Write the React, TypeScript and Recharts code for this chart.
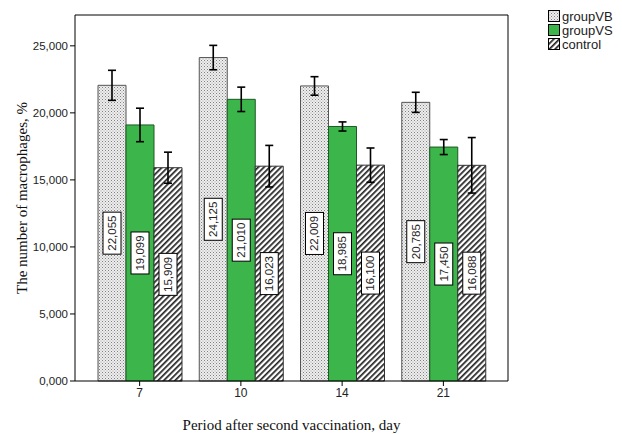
import { BarChart, Bar, XAxis, YAxis, ErrorBar, LabelList } from "recharts"

// days after second vaccination
const days = ["7", "10", "14", "21"]

// means (thousands, shown with comma decimals as on the original)
const groupVB = [22.055, 24.125, 22.009, 20.785]
const groupVS = [19.099, 21.01, 18.985, 17.45]
const control = [15.909, 16.023, 16.1, 16.088]

// error bar half-lengths
const errVB = [1.12, 0.91, 0.69, 0.75]
const errVS = [1.25, 0.91, 0.34, 0.56]
const errControl = [1.16, 1.55, 1.28, 2.07]

const yTicks = [0, 5, 10, 15, 20, 25]

const data = days.map((d, i) => ({
  day: d,
  vb: groupVB[i],
  vs: groupVS[i],
  control: control[i],
  errVB: errVB[i],
  errVS: errVS[i],
  errControl: errControl[i],
}))

const fmt = (v: number) => v.toFixed(3).replace(".", ",")

const GREEN = "#3cb54a"

function BoxLabel(props: any) {
  const { x, y, width, height, value } = props
  const cx = x + width / 2
  const cy = y + height / 2
  const w = 18
  const h = 42
  return (
    <g>
      <rect x={cx - w / 2} y={cy - h / 2} width={w} height={h} fill="#fff" stroke="#000" strokeWidth={1} />
      <text
        x={cx}
        y={cy}
        transform={`rotate(-90 ${cx} ${cy})`}
        textAnchor="middle"
        dominantBaseline="central"
        fontFamily="Liberation Sans, Arial, sans-serif"
        fontSize={11.5}
        fill="#222"
      >
        {fmt(value)}
      </text>
    </g>
  )
}

const legendItems = [
  { name: "groupVB", fill: "url(#dots)" },
  { name: "groupVS", fill: GREEN },
  { name: "control", fill: "url(#hatch)" },
]

function LegendBox() {
  return (
    <div
      style={{
        position: "absolute",
        left: 548,
        top: 9,
        fontFamily: "Liberation Sans, Arial, sans-serif",
        fontSize: 13,
        color: "#222",
      }}
    >
      {legendItems.map((it) => (
        <div key={it.name} style={{ display: "flex", alignItems: "center", height: 14 }}>
          <svg width={13} height={13} style={{ marginRight: 1 }}>
            <rect x={0.5} y={0.5} width={11} height={11} fill={it.fill} stroke="#000" />
          </svg>
          <span>{it.name}</span>
        </div>
      ))}
    </div>
  )
}

export default function App() {
  return (
    <div style={{ position: "absolute", left: 0, top: 0, width: 622, height: 434, background: "#fff" }}>
      <BarChart
        width={622}
        height={434}
        data={data}
        margin={{ top: 14, right: 113, left: 0, bottom: 0 }}
        barGap={0}
        barCategoryGap={8}
      >
        <defs>
          <pattern id="dots" width="3" height="3" patternUnits="userSpaceOnUse">
            <rect width="3" height="3" fill="#eeeeee" />
            <rect width="1" height="1" fill="#808080" />
            <rect x="1.5" y="1.5" width="1" height="1" fill="#a0a0a0" />
          </pattern>
          <pattern id="hatch" width="4" height="4" patternUnits="userSpaceOnUse" patternTransform="rotate(45)">
            <rect width="4" height="4" fill="#fff" />
            <rect width="1.7" height="4" fill="#222" />
          </pattern>
        </defs>
        <XAxis
          dataKey="day"
          padding={{ left: 14, right: 14 }}
          stroke="#000"
          tick={{ fill: "#222", fontSize: 12, fontFamily: "Liberation Sans, Arial, sans-serif" }}
          tickSize={5}
          height={53}
          label={{
            value: "Period after second vaccination, day",
            position: "insideBottom",
            offset: 4,
            fill: "#111",
            fontSize: 15,
            fontFamily: "Liberation Serif, Times New Roman, serif",
          }}
        />
        <XAxis xAxisId="top" orientation="top" dataKey="day" height={1} tick={false} tickLine={false} stroke="#000" />
        <YAxis
          domain={[0, 27.3]}
          ticks={yTicks}
          tickFormatter={fmt}
          width={75}
          stroke="#000"
          tickSize={5}
          tick={{ fill: "#222", fontSize: 11.5, fontFamily: "Liberation Sans, Arial, sans-serif" }}
          label={{
            value: "The number of macrophages, %",
            angle: -90,
            position: "insideLeft",
            offset: 22,
            style: { textAnchor: "middle" },
            fill: "#111",
            fontSize: 15,
            fontFamily: "Liberation Serif, Times New Roman, serif",
          }}
        />
        <YAxis yAxisId="right" orientation="right" width={1} tick={false} tickLine={false} stroke="#000" />
        <Bar dataKey="vb" name="groupVB" fill="url(#dots)" stroke="#555" strokeWidth={1} barSize={28} isAnimationActive={false}>
          <ErrorBar dataKey="errVB" width={4} stroke="#000" strokeWidth={1.6} direction="y" />
          <LabelList dataKey="vb" content={<BoxLabel />} />
        </Bar>
        <Bar dataKey="vs" name="groupVS" fill={GREEN} stroke="#1d5a25" strokeWidth={1} barSize={28} isAnimationActive={false}>
          <ErrorBar dataKey="errVS" width={4} stroke="#000" strokeWidth={1.6} direction="y" />
          <LabelList dataKey="vs" content={<BoxLabel />} />
        </Bar>
        <Bar dataKey="control" name="control" fill="url(#hatch)" stroke="#333" strokeWidth={1} barSize={28} isAnimationActive={false}>
          <ErrorBar dataKey="errControl" width={4} stroke="#000" strokeWidth={1.6} direction="y" />
          <LabelList dataKey="control" content={<BoxLabel />} />
        </Bar>
      </BarChart>
      <LegendBox />
    </div>
  )
}
